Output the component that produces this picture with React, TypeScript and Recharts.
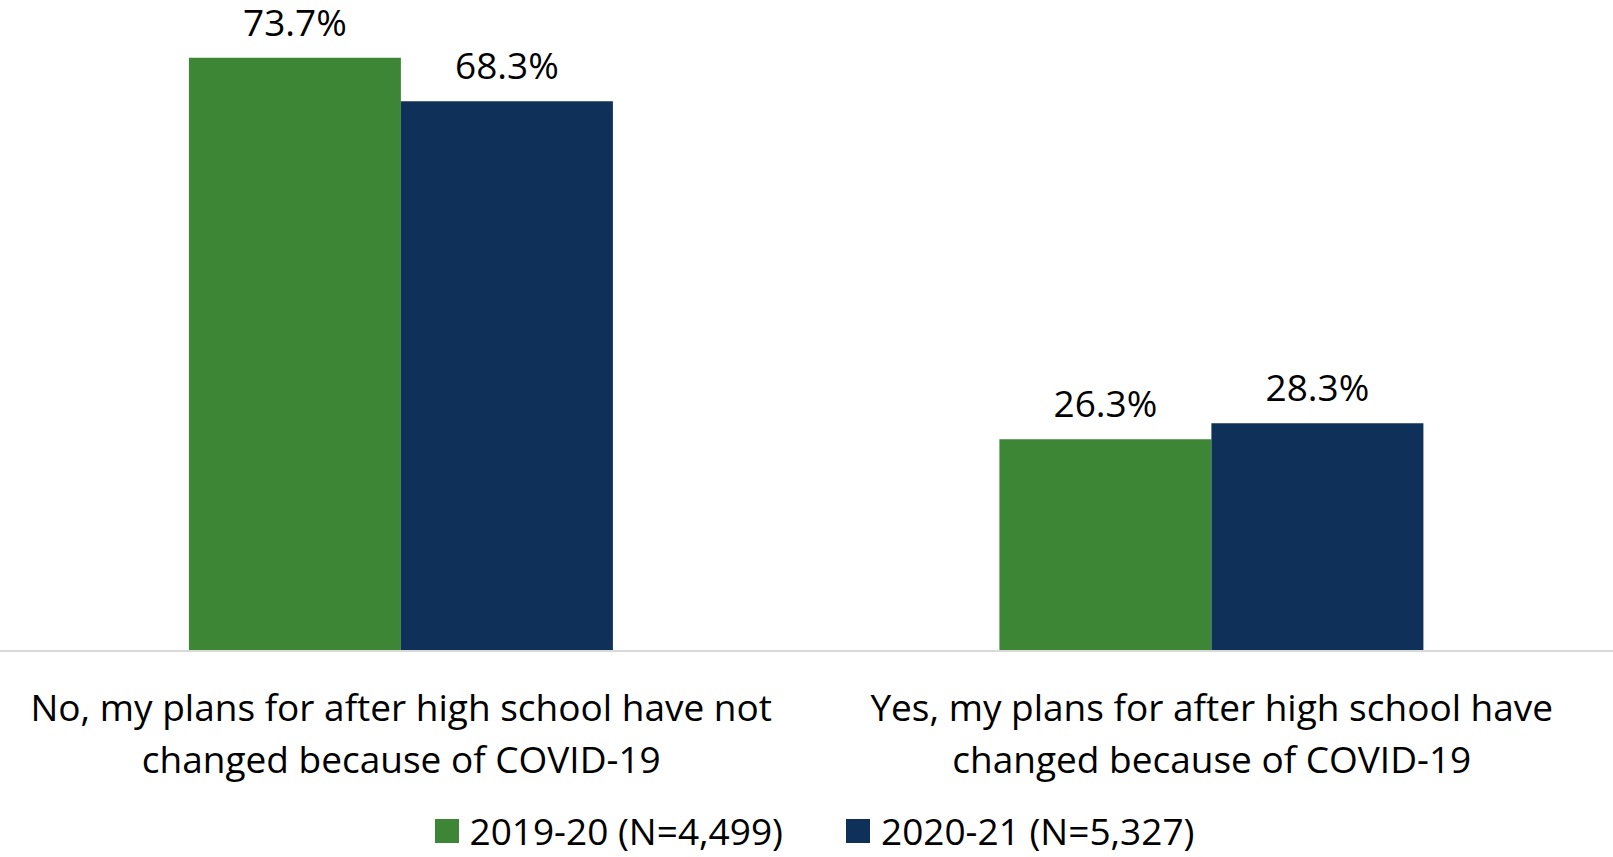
import { BarChart, Bar, XAxis, YAxis, LabelList, Legend } from 'recharts';

const categories = [
  'No, my plans for after high school have not\nchanged because of COVID-19',
  'Yes, my plans for after high school have\nchanged because of COVID-19',
];
const series2019 = [73.7, 26.3];
const series2020 = [68.3, 28.3];
const seriesNames = ['2019-20 (N=4,499)', '2020-21 (N=5,327)'];
const COLORS = ['#3c8635', '#0e3059'];

const FONT = '"Open Sans", sans-serif';

const data = categories.map((name, i) => ({
  name,
  y2019: series2019[i],
  y2020: series2020[i],
}));

function CategoryTick(props: any) {
  const { x, y, payload } = props;
  const lines: string[] = String(payload.value).split('\n');
  return (
    <g>
      {lines.map((line, i) => (
        <text
          key={i}
          x={x}
          y={y}
          dy={64 + i * 52}
          textAnchor="middle"
          fontFamily={FONT}
          fontSize={37}
          fill="#000"
        >
          {line}
        </text>
      ))}
    </g>
  );
}

function LegendContent() {
  return (
    <div
      style={{
        display: 'flex',
        justifyContent: 'center',
        alignItems: 'center',
        height: 40,
        fontFamily: FONT,
        fontSize: 37,
        lineHeight: '40px',
        color: '#000',
        paddingLeft: 16,
      }}
    >
      {seriesNames.map((n, i) => (
        <div
          key={n}
          style={{ display: 'flex', alignItems: 'center', marginRight: i === 0 ? 63 : 0 }}
        >
          <span
            style={{
              width: 24,
              height: 24,
              background: COLORS[i],
              marginRight: 11,
              display: 'inline-block',
            }}
          />
          <span>{n}</span>
        </div>
      ))}
    </div>
  );
}

const labelFmt = (v: any) => `${Number(v).toFixed(1)}%`;

export default function App() {
  return (
    <div style={{ position: 'absolute', left: 0, top: 0, background: '#fff' }}>
      <BarChart
        width={1613}
        height={857}
        data={data}
        margin={{ top: 7, right: -4, bottom: 36, left: -4 }}
        barCategoryGap="23.8%"
        barGap={0}
      >
        <XAxis
          dataKey="name"
          height={130}
          tickLine={false}
          tickMargin={0}
          axisLine={{ stroke: '#d9d9d9', strokeWidth: 2 }}
          tick={<CategoryTick />}
          interval={0}
        />
        <YAxis hide domain={[0, 80]} />
        <Legend
          verticalAlign="bottom"
          content={<LegendContent />}
          wrapperStyle={{ top: 811, left: 0, width: 1613, height: 40 }}
        />
        <Bar dataKey="y2019" name={seriesNames[0]} fill={COLORS[0]} isAnimationActive={false}>
          <LabelList
            dataKey="y2019"
            position="top"
            offset={22}
            formatter={labelFmt}
            style={{ fontFamily: FONT, fontSize: 37, fill: '#000' }}
          />
        </Bar>
        <Bar dataKey="y2020" name={seriesNames[1]} fill={COLORS[1]} isAnimationActive={false}>
          <LabelList
            dataKey="y2020"
            position="top"
            offset={22}
            formatter={labelFmt}
            style={{ fontFamily: FONT, fontSize: 37, fill: '#000' }}
          />
        </Bar>
      </BarChart>
    </div>
  );
}
